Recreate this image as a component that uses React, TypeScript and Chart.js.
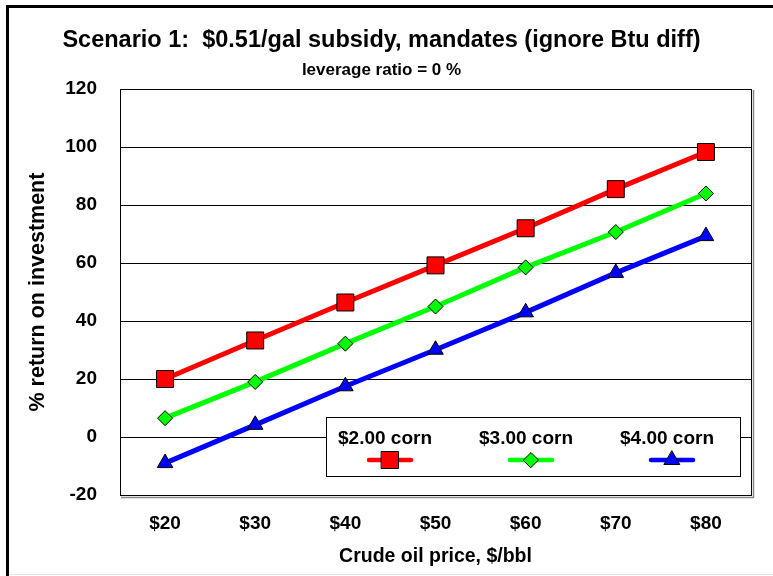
import React, { useEffect, useRef } from "react";
import { Chart, registerables } from "chart.js";

Chart.register(...registerables);

const categories = ["$20", "$30", "$40", "$50", "$60", "$70", "$80"];
const corn200 = [20, 33.3, 46.4, 59.2, 72, 85.5, 98.3];
const corn300 = [6.5, 19, 32.2, 45, 58.5, 70.7, 84];
const corn400 = [-9, 4.2, 17.5, 30.1, 43, 56.6, 69.3];
const seriesLabels = ["$2.00 corn", "$3.00 corn", "$4.00 corn"];
const seriesColors = ["#ff0000", "#00ff00", "#0000ff"];
const seriesShapes = ["rect", "rectRot", "triangle"];
const seriesRadii = [12, 7.5, 9];
const titleText = "Scenario 1:  $0.51/gal subsidy, mandates (ignore Btu diff)";
const subtitleText = "leverage ratio = 0 %";
const xTitle = "Crude oil price, $/bbl";
const yTitle = "% return on investment";

const FONT = "'Liberation Sans', Arial, Helvetica, sans-serif";

function drawMarker(ctx: CanvasRenderingContext2D, shape: string, x: number, y: number, r: number, color: string) {
  ctx.save();
  ctx.beginPath();
  if (shape === "rect") {
    const s = Math.SQRT1_2 * r;
    ctx.rect(x - s, y - s, 2 * s, 2 * s);
  } else if (shape === "rectRot") {
    ctx.moveTo(x - r, y);
    ctx.lineTo(x, y - r);
    ctx.lineTo(x + r, y);
    ctx.lineTo(x, y + r);
    ctx.closePath();
  } else {
    const a = (2 * Math.PI) / 3;
    ctx.moveTo(x, y - r);
    ctx.lineTo(x + Math.sin(a) * r, y - Math.cos(a) * r);
    ctx.lineTo(x - Math.sin(a) * r, y - Math.cos(a) * r);
    ctx.closePath();
  }
  ctx.fillStyle = color;
  ctx.fill();
  ctx.lineWidth = 1;
  ctx.strokeStyle = "#000";
  ctx.stroke();
  ctx.restore();
}

const framePlugin = {
  id: "frame",
  beforeDraw(chart: any) {
    const ctx = chart.ctx;
    ctx.save();
    ctx.fillStyle = "#fff";
    ctx.fillRect(0, 0, chart.width, chart.height);
    ctx.strokeStyle = "#000";
    ctx.lineWidth = 3;
    ctx.beginPath();
    ctx.moveTo(7.5, chart.height);
    ctx.lineTo(7.5, 6.5);
    ctx.lineTo(chart.width, 6.5);
    ctx.stroke();
    ctx.strokeStyle = "#e4e4e4";
    ctx.lineWidth = 1;
    ctx.beginPath();
    ctx.moveTo(9, chart.height - 1.5);
    ctx.lineTo(chart.width, chart.height - 1.5);
    ctx.stroke();
    ctx.restore();
  },
  beforeDatasetsDraw(chart: any) {
    const { ctx, chartArea: a } = chart;
    ctx.save();
    ctx.strokeStyle = "#000";
    ctx.lineWidth = 1;
    ctx.strokeRect(Math.round(a.left) + 0.5, Math.round(a.top) + 0.5, Math.round(a.right - a.left), Math.round(a.bottom - a.top));
    ctx.strokeStyle = "#888";
    ctx.lineWidth = 1.5;
    ctx.beginPath();
    ctx.moveTo(Math.round(a.left) + 1, Math.round(a.bottom) + 2.5);
    ctx.lineTo(Math.round(a.right) + 2.5, Math.round(a.bottom) + 2.5);
    ctx.lineTo(Math.round(a.right) + 2.5, Math.round(a.top) + 1);
    ctx.stroke();
    ctx.restore();
  },
  afterDatasetsDraw(chart: any) {
    const { ctx, chartArea: a } = chart;
    const bx = a.left + 206;
    const by = a.bottom - 78;
    const bw = a.right - 11 - bx;
    const bh = 59;
    ctx.save();
    ctx.fillStyle = "#fff";
    ctx.fillRect(bx, by, bw, bh);
    ctx.strokeStyle = "#000";
    ctx.lineWidth = 1;
    ctx.strokeRect(Math.round(bx) + 0.5, Math.round(by) + 0.5, Math.round(bw), bh);
    const centers = [bx + 59, bx + 200, bx + 341];
    chart.data.datasets.forEach((ds: any, i: number) => {
      const cx = centers[i];
      ctx.fillStyle = "#000";
      ctx.font = `bold 19px ${FONT}`;
      ctx.textAlign = "center";
      ctx.textBaseline = "middle";
      ctx.fillText(ds.label, cx, by + 22);
      const lx = cx + 5;
      ctx.strokeStyle = ds.borderColor;
      ctx.lineWidth = 4.5;
      ctx.lineCap = "round";
      ctx.beginPath();
      ctx.moveTo(lx - 21, by + 43);
      ctx.lineTo(lx + 21, by + 43);
      ctx.stroke();
      drawMarker(ctx, ds.pointStyle, lx, by + 43, ds.pointRadius, ds.backgroundColor);
    });
    ctx.restore();
  },
};

export default function App() {
  const ref = useRef<HTMLCanvasElement | null>(null);
  useEffect(() => {
    if (!ref.current) return;
    const series = [corn200, corn300, corn400];
    const chart = new Chart(ref.current, {
      type: "line",
      data: {
        labels: categories,
        datasets: series.map((d, i) => ({
          label: seriesLabels[i],
          data: d,
          borderColor: seriesColors[i],
          backgroundColor: seriesColors[i],
          borderWidth: 5,
          pointStyle: seriesShapes[i] as any,
          pointRadius: seriesRadii[i],
          pointBackgroundColor: seriesColors[i],
          pointBorderColor: "#000",
          pointBorderWidth: 1,
          tension: 0,
        })),
      },
      options: {
        animation: false,
        responsive: false,
        devicePixelRatio: 1,
        layout: { padding: { left: 12, right: 22, top: 0, bottom: 8 } },
        plugins: {
          legend: { display: false },
          tooltip: { enabled: false },
          title: {
            display: true,
            text: titleText,
            color: "#000",
            font: { family: FONT, size: 23.5, weight: "bold" },
            padding: { top: 26, bottom: 6 },
          },
          subtitle: {
            display: true,
            text: subtitleText,
            color: "#000",
            font: { family: FONT, size: 17, weight: "bold" },
            padding: { top: 0, bottom: 8.5 },
          },
        },
        scales: {
          x: {
            offset: true,
            grid: { display: false, drawTicks: false },
            border: { display: true, color: "#000", width: 1 },
            ticks: { color: "#000", font: { family: FONT, size: 19, weight: "bold" }, padding: 17 },
            title: {
              display: true,
              text: xTitle,
              color: "#000",
              font: { family: FONT, size: 19.5, weight: "bold" },
              padding: { top: 0, bottom: 0 },
            },
            afterFit: (s: any) => { s.height = 73; },
          },
          y: {
            min: -20,
            max: 120,
            grid: { color: "#000", lineWidth: 1, drawTicks: false },
            border: { display: true, color: "#000", width: 1 },
            ticks: { stepSize: 20, color: "#000", font: { family: FONT, size: 19, weight: "bold" }, padding: 23 },
            title: {
              display: true,
              text: yTitle,
              color: "#000",
              font: { family: FONT, size: 21.5, weight: "bold" },
              padding: { top: 13, bottom: 0 },
            },
            afterFit: (s: any) => { s.width = 108; },
          },
        },
      },
      plugins: [framePlugin],
    });
    return () => chart.destroy();
  }, []);
  return (
    <div style={{ position: "absolute", left: 0, top: 0, width: 773, height: 576 }}>
      <canvas ref={ref} width={773} height={576} style={{ width: 773, height: 576, display: "block" }} />
    </div>
  );
}
